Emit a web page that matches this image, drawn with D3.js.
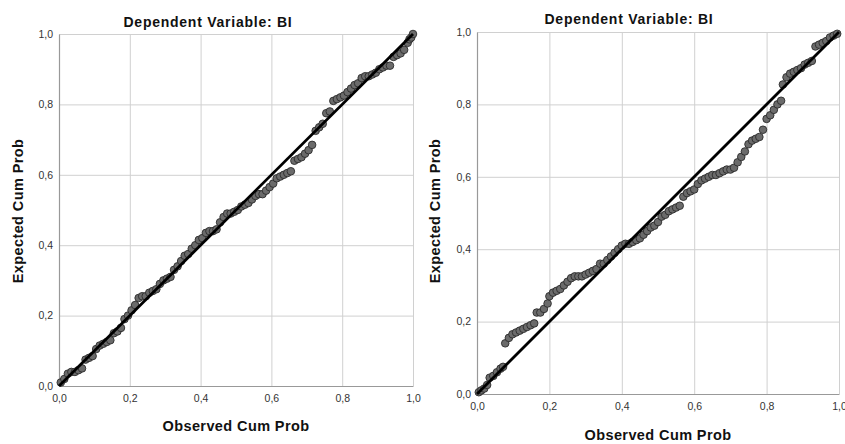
<!DOCTYPE html>
<html>
<head>
<meta charset="utf-8">
<script src="https://cdn.jsdelivr.net/npm/d3@7"></script>
<style>
  body { margin: 0; background: #fff; }
  svg { display: block; font-family: 'Liberation Sans', Arial, sans-serif; }
</style>
</head>
<body>
<svg id="chart" width="845" height="444"></svg>
<script>
// Data
const tickValues = [0, 0.2, 0.4, 0.6, 0.8, 1.0]
const chartTitle = 'Dependent Variable: BI'
const xLabel = 'Observed Cum Prob'
const yLabel = 'Expected Cum Prob'

const observedLeft = [0.005, 0.015, 0.025, 0.035, 0.045, 0.055, 0.065, 0.075, 0.085, 0.095,
    0.105, 0.115, 0.125, 0.135, 0.145, 0.155, 0.165, 0.175, 0.185, 0.195,
    0.205, 0.215, 0.225, 0.235, 0.245, 0.255, 0.265, 0.275, 0.285, 0.295,
    0.305, 0.315, 0.325, 0.335, 0.345, 0.355, 0.365, 0.375, 0.385, 0.395,
    0.405, 0.415, 0.425, 0.435, 0.445, 0.455, 0.465, 0.475, 0.485, 0.495,
    0.505, 0.515, 0.525, 0.535, 0.545, 0.555, 0.565, 0.575, 0.585, 0.595,
    0.605, 0.615, 0.625, 0.635, 0.645, 0.655, 0.665, 0.675, 0.685, 0.695,
    0.705, 0.715, 0.725, 0.735, 0.745, 0.755, 0.765, 0.775, 0.785, 0.795,
    0.805, 0.815, 0.825, 0.835, 0.845, 0.855, 0.865, 0.875, 0.885, 0.895,
    0.905, 0.915, 0.925, 0.935, 0.945, 0.955, 0.965, 0.975, 0.985, 0.99, 0.995, 1.0]
const expectedLeft = [0.01, 0.02, 0.035, 0.04, 0.04, 0.045, 0.05, 0.075, 0.08, 0.085,
    0.105, 0.115, 0.12, 0.125, 0.13, 0.15, 0.155, 0.165, 0.19, 0.2,
    0.215, 0.23, 0.25, 0.255, 0.255, 0.265, 0.27, 0.275, 0.29, 0.3,
    0.305, 0.31, 0.33, 0.34, 0.355, 0.37, 0.375, 0.39, 0.4, 0.415,
    0.42, 0.435, 0.44, 0.44, 0.445, 0.465, 0.48, 0.49, 0.49, 0.495,
    0.5, 0.51, 0.515, 0.52, 0.53, 0.54, 0.545, 0.545, 0.555, 0.565,
    0.575, 0.59, 0.595, 0.6, 0.605, 0.61, 0.64, 0.645, 0.65, 0.66,
    0.67, 0.685, 0.725, 0.735, 0.745, 0.775, 0.78, 0.81, 0.815, 0.82,
    0.825, 0.835, 0.845, 0.855, 0.86, 0.875, 0.88, 0.88, 0.885, 0.89,
    0.9, 0.905, 0.91, 0.91, 0.935, 0.94, 0.945, 0.955, 0.975, 0.985, 0.99, 1.0]

const observedRight = [0.005, 0.012, 0.02, 0.028, 0.035, 0.045, 0.055, 0.065, 0.072, 0.078,
    0.088, 0.098, 0.108, 0.118, 0.128, 0.138, 0.148, 0.158, 0.165, 0.175,
    0.185, 0.195, 0.2, 0.21, 0.22, 0.23, 0.24, 0.25, 0.26, 0.27,
    0.28, 0.29, 0.3, 0.31, 0.32, 0.33, 0.34, 0.35, 0.36, 0.37,
    0.38, 0.39, 0.4, 0.41, 0.42, 0.43, 0.44, 0.45, 0.46, 0.47,
    0.48, 0.49, 0.5, 0.51, 0.52, 0.53, 0.54, 0.55, 0.56, 0.57,
    0.58, 0.59, 0.6, 0.61, 0.62, 0.63, 0.64, 0.65, 0.66, 0.67,
    0.68, 0.69, 0.7, 0.71, 0.72, 0.73, 0.74, 0.75, 0.76, 0.77,
    0.78, 0.79, 0.8, 0.81, 0.82, 0.83, 0.84, 0.845, 0.855, 0.865,
    0.875, 0.885, 0.895, 0.905, 0.915, 0.925, 0.935, 0.945, 0.955, 0.965,
    0.975, 0.985, 0.995]
const expectedRight = [0.005, 0.01, 0.015, 0.025, 0.045, 0.05, 0.06, 0.07, 0.075, 0.14,
    0.155, 0.165, 0.17, 0.175, 0.18, 0.185, 0.19, 0.195, 0.225, 0.225,
    0.235, 0.25, 0.27, 0.28, 0.285, 0.29, 0.3, 0.31, 0.32, 0.325,
    0.325, 0.325, 0.33, 0.335, 0.34, 0.345, 0.36, 0.36, 0.37, 0.38,
    0.39, 0.4, 0.41, 0.415, 0.415, 0.42, 0.425, 0.43, 0.44, 0.45,
    0.46, 0.465, 0.475, 0.49, 0.495, 0.505, 0.51, 0.515, 0.52, 0.545,
    0.555, 0.56, 0.565, 0.58, 0.59, 0.595, 0.6, 0.605, 0.605, 0.61,
    0.615, 0.62, 0.62, 0.625, 0.64, 0.655, 0.67, 0.69, 0.7, 0.705,
    0.71, 0.73, 0.76, 0.77, 0.785, 0.8, 0.81, 0.855, 0.875, 0.885,
    0.89, 0.895, 0.9, 0.91, 0.915, 0.92, 0.96, 0.965, 0.97, 0.975,
    0.985, 0.99, 0.995]

// Presentation
const panels = [
    {
        observed: observedLeft, expected: expectedLeft,
        left: 59, right: 413, top: 34, bottom: 386,
        titleX: 208, titleY: 27, xLabelX: 236, xLabelY: 431, yLabelX: 23, yLabelY: 211
    },
    {
        observed: observedRight, expected: expectedRight,
        left: 477, right: 839, top: 32, bottom: 394,
        titleX: 629, titleY: 24, xLabelX: 658, xLabelY: 440, yLabelX: 440, yLabelY: 211
    }
]

const formatTick = d => d3.format('.1f')(d).replace('.', ',')
const svg = d3.select('#chart')

panels.forEach(p => {
    const x = d3.scaleLinear().domain([0, 1]).range([p.left, p.right])
    const y = d3.scaleLinear().domain([0, 1]).range([p.bottom, p.top])
    const g = svg.append('g')

    // grid
    g.append('g')
        .attr('transform', `translate(0, ${p.bottom})`)
        .call(d3.axisBottom(x).tickValues(tickValues.slice(1)).tickSize(-(p.bottom - p.top)).tickFormat(''))
        .call(s => s.select('.domain').remove())
        .selectAll('line').attr('stroke', '#d0d0d0')
    g.append('g')
        .attr('transform', `translate(${p.left}, 0)`)
        .call(d3.axisLeft(y).tickValues(tickValues.slice(1)).tickSize(-(p.right - p.left)).tickFormat(''))
        .call(s => s.select('.domain').remove())
        .selectAll('line').attr('stroke', '#d0d0d0')

    // axes
    const xAxis = g.append('g')
        .attr('transform', `translate(0, ${p.bottom})`)
        .call(d3.axisBottom(x).tickValues(tickValues).tickSize(0).tickPadding(9).tickFormat(formatTick))
    const yAxis = g.append('g')
        .attr('transform', `translate(${p.left}, 0)`)
        .call(d3.axisLeft(y).tickValues(tickValues).tickSize(0).tickPadding(6).tickFormat(formatTick))
    ;[xAxis, yAxis].forEach(a => {
        a.select('.domain').attr('stroke', '#999').attr('stroke-width', 1.2)
        a.selectAll('text').attr('fill', '#333').style('font-size', '10.5px')
            .style('font-family', "'Liberation Sans', Arial, sans-serif")
    })

    // points
    g.append('g')
        .selectAll('circle')
        .data(p.observed.map((o, i) => [o, p.expected[i]]))
        .join('circle')
        .attr('cx', d => x(d[0]))
        .attr('cy', d => y(d[1]))
        .attr('r', 3.8)
        .attr('fill', '#6b6b6b')
        .attr('stroke', '#2b2b2b')
        .attr('stroke-width', 0.9)

    // reference line
    g.append('line')
        .attr('x1', x(0)).attr('y1', y(0))
        .attr('x2', x(1)).attr('y2', y(1))
        .attr('stroke', '#000')
        .attr('stroke-width', 2.8)

    // labels
    g.append('text')
        .attr('x', p.titleX).attr('y', p.titleY)
        .attr('text-anchor', 'middle')
        .style('font-size', '14px').style('font-weight', 'bold').style('letter-spacing', '0.75px')
        .attr('fill', '#111')
        .text(chartTitle)
    g.append('text')
        .attr('x', p.xLabelX).attr('y', p.xLabelY)
        .attr('text-anchor', 'middle')
        .style('font-size', '14.5px').style('font-weight', 'bold').style('letter-spacing', '0.4px')
        .attr('fill', '#111')
        .text(xLabel)
    g.append('text')
        .attr('transform', `translate(${p.yLabelX}, ${p.yLabelY}) rotate(-90)`)
        .attr('text-anchor', 'middle')
        .style('font-size', '14.5px').style('font-weight', 'bold').style('letter-spacing', '0.4px')
        .attr('fill', '#111')
        .text(yLabel)
})
</script>
</body>
</html>
